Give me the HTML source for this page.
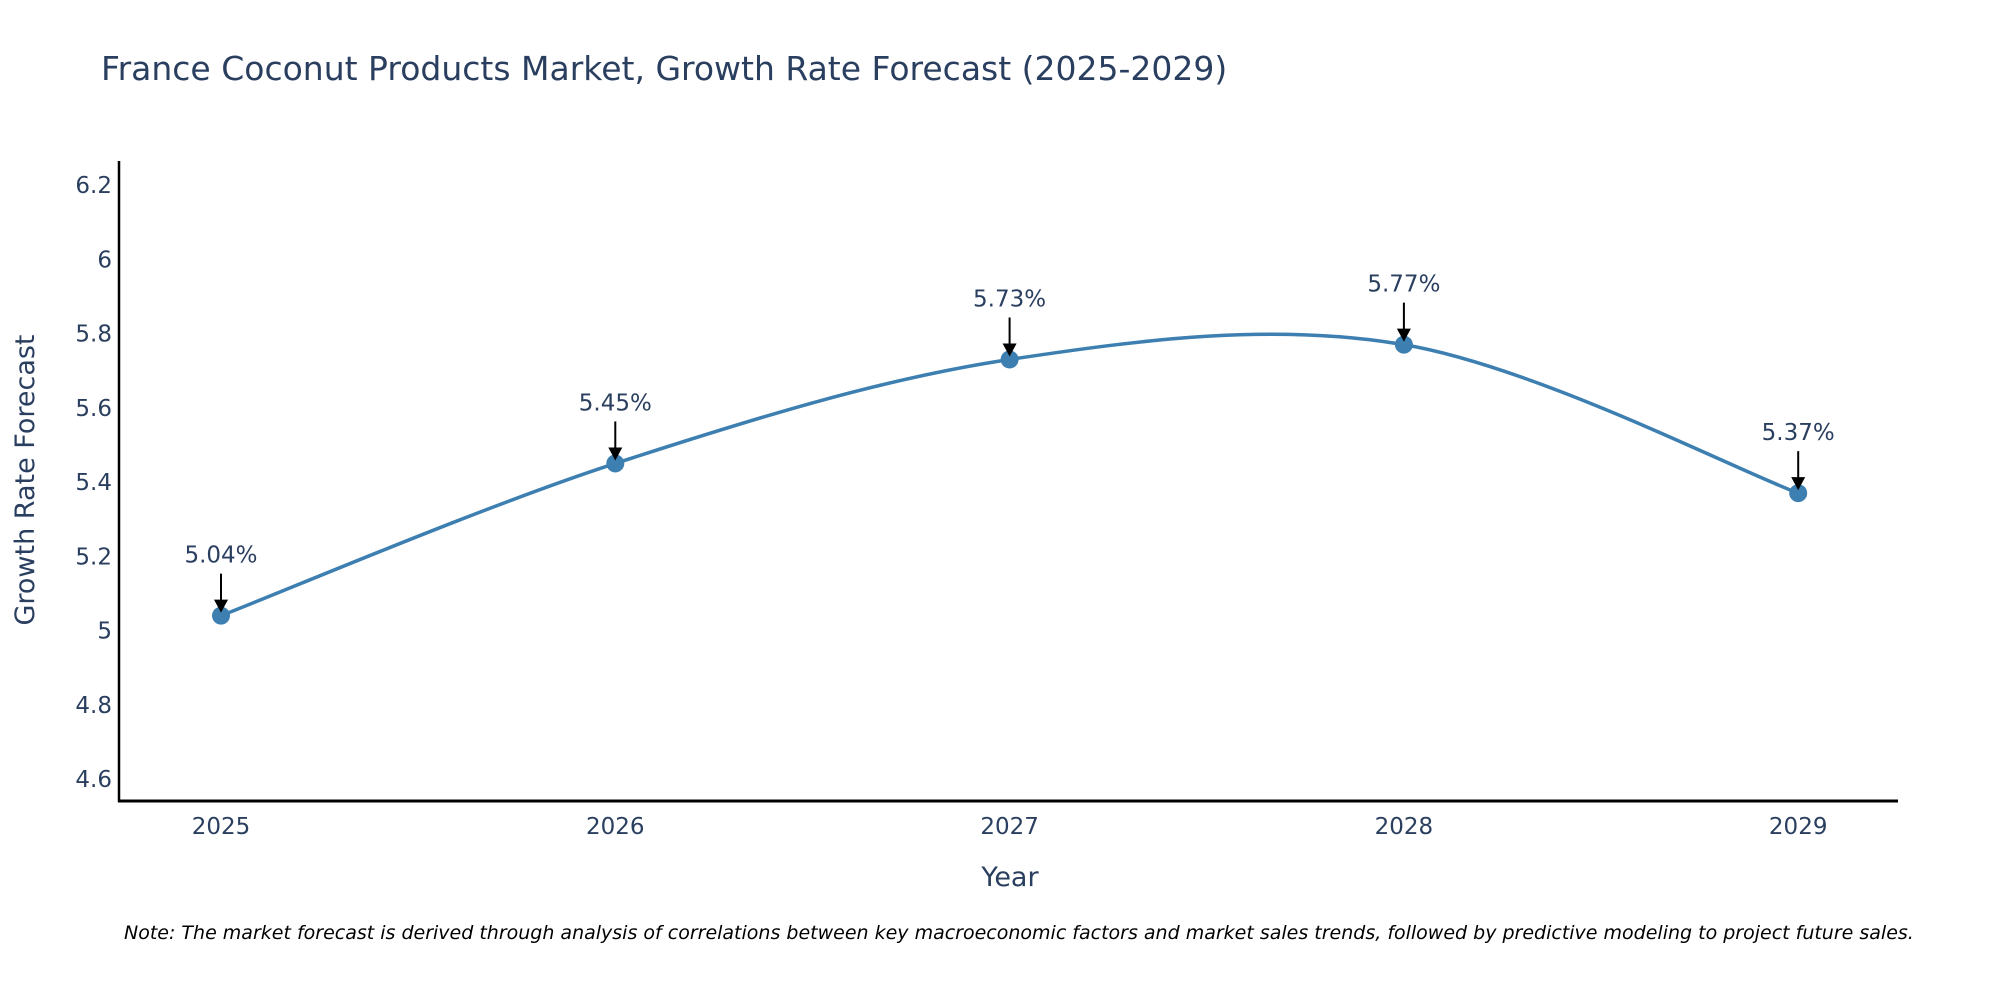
<!DOCTYPE html>
<html><head><meta charset="utf-8"><style>
body{margin:0;background:#fff;}
svg{display:block;font-family:"DejaVu Sans","Liberation Sans",sans-serif;}
</style></head><body>
<svg id="chart" width="2000" height="1000" viewBox="0 0 2000 1000">
<text x="101" y="80" font-size="33" fill="#2a3f5f">France Coconut Products Market, Growth Rate Forecast (2025-2029)</text>
<g id="yticks"></g>
<g id="xticks"></g>
<line x1="119" y1="161" x2="119" y2="802" stroke="#000" stroke-width="2.5"/>
<line x1="118" y1="801" x2="1898" y2="801" stroke="#000" stroke-width="3"/>
<path id="line" fill="none" stroke="#3d7fb0" stroke-width="3.5"/>
<g id="marks"></g>
<text x="1010" y="886" font-size="27" fill="#2a3f5f" text-anchor="middle">Year</text>
<text transform="translate(34,480) rotate(-90)" font-size="27" fill="#2a3f5f" text-anchor="middle">Growth Rate Forecast</text>
<text x="124" y="939" font-size="19" font-style="italic" fill="#000">Note: The market forecast is derived through analysis of correlations between key macroeconomic factors and market sales trends, followed by predictive modeling to project future sales.</text>
</svg>
<script>
const years = [2025, 2026, 2027, 2028, 2029];
const values = [5.04, 5.45, 5.73, 5.77, 5.37];
const labels = ["5.04%", "5.45%", "5.73%", "5.77%", "5.37%"];
const yTicks = [4.6, 4.8, 5, 5.2, 5.4, 5.6, 5.8, 6, 6.2];
const NS = "http://www.w3.org/2000/svg";
function xs(yr){ return 221 + (yr - 2025) * 394.3; }
function ys(v){ return 185 + (6.2 - v) / 0.2 * 74.25; }
function mk(tag, attrs, parent){ const e=document.createElementNS(NS,tag); for(const k in attrs) e.setAttribute(k,attrs[k]); parent.appendChild(e); return e; }
const yg=document.getElementById('yticks');
yTicks.forEach(t=>{
  const e=mk('text',{x:112,y:ys(t)+8,'font-size':23,fill:'#2a3f5f','text-anchor':'end'},yg);
  
  
  e.textContent=String(t);
});
const xg=document.getElementById('xticks');
years.forEach(y=>{
  const e=mk('text',{x:xs(y),y:834,'font-size':23,fill:'#2a3f5f','text-anchor':'middle'},xg);
  
  
  e.textContent=String(y);
});
const P=years.map((y,i)=>[xs(y),ys(values[i])]);
let d='M'+P[0][0]+','+P[0][1];
for(let i=0;i<P.length-1;i++){
  const p0=P[Math.max(0,i-1)],p1=P[i],p2=P[i+1],p3=P[Math.min(P.length-1,i+2)];
  const c1=[p1[0]+(p2[0]-p0[0])/6,p1[1]+(p2[1]-p0[1])/6];
  const c2=[p2[0]-(p3[0]-p1[0])/6,p2[1]-(p3[1]-p1[1])/6];
  d+=` C${c1[0]},${c1[1]} ${c2[0]},${c2[1]} ${p2[0]},${p2[1]}`;
}
document.getElementById('line').setAttribute('d',d);
const mg=document.getElementById('marks');
P.forEach((p,i)=>{
  const c=mk('circle',{cx:p[0],cy:p[1],r:9,fill:'#3d7fb0'},mg);
  
  
  const l=mk('line',{x1:p[0],y1:p[1]-42,x2:p[0],y2:p[1]-12,stroke:'#000','stroke-width':2},mg);
  
  
  const h=mk('polygon',{points:`${p[0]-7},${p[1]-16} ${p[0]+7},${p[1]-16} ${p[0]},${p[1]-3}`,fill:'#000'},mg);
  
  
  const t=mk('text',{x:p[0],y:p[1]-53,'font-size':23,fill:'#2a3f5f','text-anchor':'middle'},mg);
  
  
  t.textContent=labels[i];
});
</script>
</body></html>
